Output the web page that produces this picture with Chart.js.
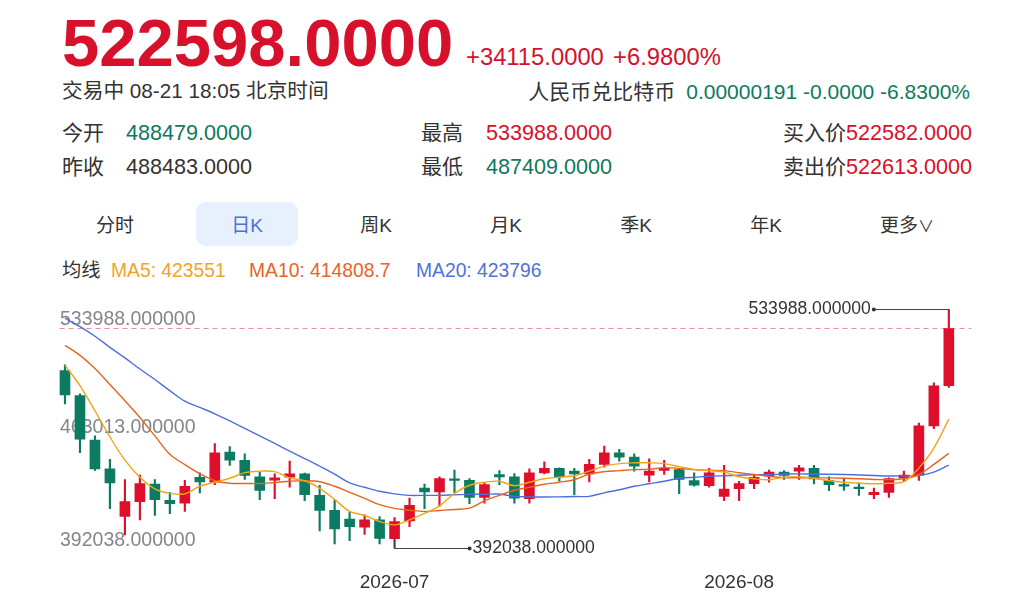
<!DOCTYPE html>
<html lang="zh-CN">
<head>
<meta charset="utf-8">
<title>人民币兑比特币 日K</title>
<script src="https://cdn.jsdelivr.net/npm/chart.js@4.4.1/dist/chart.umd.min.js"></script>
<style>
  html, body { margin: 0; padding: 0; background: #fff; }
  body {
    width: 1027px; height: 609px; position: relative; overflow: hidden;
    font-family: "Liberation Sans", Arial, "Noto Sans CJK SC", sans-serif; color: #333;
  }
  .t { position: absolute; white-space: nowrap; line-height: 1; }
  .red { color: #d7102b; }
  .green { color: #0d7a5f; }
  .price { left: 62px; top: 9px; font-size: 67px; font-weight: bold; }
  .chg { top: 45px; font-size: 23.8px; }
  .row { font-size: 21px; }
  .num { font-size: 21.6px; }
  .tab { top: 216px; font-size: 19px; width: 100px; text-align: center; }
  .tab-on { position: absolute; left: 196px; top: 202px; width: 102px; height: 44px; border-radius: 10px; background: #e7f0fd; }
  .ma { top: 261px; font-size: 19.3px; }
  #wrap { position: absolute; left: 0; top: 290px; width: 1027px; height: 319px; }
</style>
</head>
<body>

<div class="t red price">522598.0000</div>
<div class="t red chg" style="left:466px">+34115.0000</div>
<div class="t red chg" style="left:613px">+6.9800%</div>

<div class="t row" style="left:62px; top:81px; font-size:20.7px">交易中 08-21 18:05 北京时间</div>
<div class="t row" style="right:57px; top:81px">人民币兑比特币<span class="green" style="margin-left:11px">0.00000191 -0.0000 -6.8300%</span></div>

<div class="t row" style="left:62px; top:122px">今开</div>
<div class="t num green" style="left:126px; top:122px">488479.0000</div>
<div class="t row" style="left:421px; top:122px">最高</div>
<div class="t num red" style="left:486px; top:122px">533988.0000</div>
<div class="t row" style="right:55px; top:122px">买入价<span class="num red">522582.0000</span></div>

<div class="t row" style="left:62px; top:156px">昨收</div>
<div class="t num" style="left:126px; top:156px">488483.0000</div>
<div class="t row" style="left:421px; top:156px">最低</div>
<div class="t num green" style="left:486px; top:156px">487409.0000</div>
<div class="t row" style="right:55px; top:156px">卖出价<span class="num red">522613.0000</span></div>

<div class="tab-on"></div>
<div class="t tab" style="left:65px">分时</div>
<div class="t tab" style="left:197px; color:#4d6fd6">日K</div>
<div class="t tab" style="left:326px">周K</div>
<div class="t tab" style="left:456px">月K</div>
<div class="t tab" style="left:586px">季K</div>
<div class="t tab" style="left:716px">年K</div>
<div class="t tab" style="left:857px">更多<span style="font-size:16px">∨</span></div>

<div class="t ma" style="left:62px">均线</div>
<div class="t ma" style="left:111px; color:#f2a32b">MA5: 423551</div>
<div class="t ma" style="left:249px; color:#e8642a">MA10: 414808.7</div>
<div class="t ma" style="left:416px; color:#4f72dc">MA20: 423796</div>

<div id="wrap"><canvas id="kline"></canvas></div>

<script>
// trading days, 2026-06-01 .. 2026-08-21
const dates = [
  "2026-06-01", "2026-06-02", "2026-06-03", "2026-06-04", "2026-06-05",
  "2026-06-08", "2026-06-09", "2026-06-10", "2026-06-11", "2026-06-12",
  "2026-06-15", "2026-06-16", "2026-06-17", "2026-06-18", "2026-06-19",
  "2026-06-22", "2026-06-23", "2026-06-24", "2026-06-25", "2026-06-26",
  "2026-06-29", "2026-06-30",
  "2026-07-01", "2026-07-02", "2026-07-03", "2026-07-06", "2026-07-07",
  "2026-07-08", "2026-07-09", "2026-07-10", "2026-07-13", "2026-07-14",
  "2026-07-15", "2026-07-16", "2026-07-17", "2026-07-20", "2026-07-21",
  "2026-07-22", "2026-07-23", "2026-07-24", "2026-07-27", "2026-07-28",
  "2026-07-29", "2026-07-30", "2026-07-31",
  "2026-08-03", "2026-08-04", "2026-08-05", "2026-08-06", "2026-08-07",
  "2026-08-10", "2026-08-11", "2026-08-12", "2026-08-13", "2026-08-14",
  "2026-08-17", "2026-08-18", "2026-08-19", "2026-08-20", "2026-08-21"
];

const open = [
  497568, 482568, 456168, 438948, 410568, 419388, 429948, 420168, 418548, 433968,
  430968, 448968, 443988, 434148, 432168, 433968, 435948, 423168, 414168, 408948,
  404148, 408588, 397368, 407988, 427548, 425148, 432948, 432168, 421968, 435588,
  434148, 421188, 436548, 439188, 437568, 435948, 441588, 448548, 445968, 435168,
  437988, 438588, 431988, 428988, 422568, 427188, 430188, 434568, 436968, 437568,
  439188, 431988, 429588, 428148, 423588, 424968, 433548, 435168, 464568, 488479
];
const high = [
  500988, 483588, 458568, 444588, 432588, 435168, 432588, 424968, 432168, 436548,
  453948, 452148, 447948, 436968, 435948, 443568, 436368, 429168, 420168, 413148,
  411588, 410568, 409968, 421548, 429948, 434148, 438168, 433188, 430548, 437988,
  436188, 438948, 443148, 439548, 439188, 444588, 452568, 450588, 447948, 444948,
  443988, 438768, 436548, 439188, 440988, 431568, 435588, 438168, 437988, 440988,
  440988, 434148, 433188, 430548, 427548, 433548, 437568, 466188, 490188, 533988
];
const low = [
  477588, 448548, 437988, 415188, 399588, 408588, 411168, 412188, 413568, 424548,
  429588, 440988, 432588, 420588, 421188, 427968, 419988, 401988, 394188, 396168,
  399948, 394188, 392038, 404568, 415188, 416568, 424968, 418188, 418548, 429588,
  418548, 418548, 435948, 431568, 423588, 431148, 439968, 443568, 437568, 431148,
  435588, 424188, 428568, 427968, 419988, 419988, 427188, 430968, 432588, 432588,
  429948, 425988, 426168, 423168, 421188, 421968, 431568, 431988, 462948, 487409
];
const close = [
  482988, 456588, 438948, 430548, 419388, 430188, 420588, 418188, 428568, 431148,
  448548, 444168, 434988, 426168, 433548, 435948, 423588, 414168, 403188, 404568,
  408588, 397548, 407568, 417168, 425148, 433188, 431988, 421968, 429588, 434148,
  421548, 436548, 439188, 434148, 435948, 441588, 448548, 445968, 440568, 437568,
  439188, 432588, 429168, 436548, 426948, 430188, 433968, 436968, 434988, 439548,
  432948, 429588, 428568, 427188, 424968, 433188, 435168, 464568, 488483, 522598
];

// moving averages as drawn (values carried in from before the window)
const ma5 = [
  500568, 488568, 473568, 457968, 444168, 433968, 427068, 424368, 424068, 428568,
  430968, 433368, 436668, 437568, 437268, 433548, 431868, 427368, 420768, 413568,
  411168, 407568, 405588, 408588, 412368, 416868, 424368, 429168, 430968, 431568,
  428868, 430968, 433068, 433968, 434868, 437568, 440568, 442068, 442548, 442548,
  442068, 440268, 438588, 437868, 436968, 434268, 433068, 432468, 433968, 434268,
  433368, 431868, 430968, 430368, 430068, 430368, 431268, 439368, 451368, 468588
];
const ma10 = [
  512568, 506568, 498768, 489168, 479568, 469548, 458568, 447588, 441468, 436068,
  431868, 430368, 430248, 430188, 430848, 431568, 431868, 431268, 428568, 424968,
  421368, 417588, 415368, 414288, 413568, 414168, 414768, 415548, 419868, 423168,
  426168, 427968, 429768, 430968, 432468, 435768, 437268, 437868, 438468, 438768,
  439668, 439248, 438468, 438108, 437868, 436668, 435588, 434568, 433788, 433668,
  433548, 433548, 433368, 433068, 432648, 432588, 433068, 435588, 441588, 448188
];
const ma20 = [
  528768, 523668, 517968, 511368, 505068, 498468, 492168, 485568, 479268, 475548,
  471768, 467568, 463068, 458568, 454068, 449568, 445068, 440568, 435768, 430548,
  427968, 425568, 424068, 423168, 423168, 423168, 423468, 423768, 423768, 423948,
  422568, 422268, 422148, 422268, 422448, 422568, 424668, 426468, 428568, 430068,
  431568, 433368, 433968, 434568, 434868, 435168, 435348, 435588, 435768, 435948,
  435768, 435708, 435588, 435288, 434988, 434688, 434748, 434988, 436968, 441168
];

const UP = "#df0f2c";
const DOWN = "#0b7c62";

// one empty slot after the last candle, like the source chart
const labels = [...dates, ""];
const candleColor = close.map((c, i) => (c >= open[i] ? UP : DOWN));

const hi = Math.max(...high);
const lo = Math.min(...low);
const hiIdx = high.indexOf(hi);
const loIdx = low.indexOf(lo);
const last = close.length - 1;

// where the extremes sit inside the canvas (px)
const areaTop = 8, areaBottom = 276, hiPx = 19.3, loPx = 256;
const perPx = (hi - lo) / (loPx - hiPx);
const yMax = hi + (hiPx - areaTop) * perPx;
const yMin = lo - (areaBottom - loPx) * perPx;

const fmt = (v) => v.toFixed(6);

// price labels on the left + dashed line at the latest price
const priceGuide = {
  id: "priceGuide",
  beforeDatasetsDraw(chart) {
    const { ctx, chartArea, scales: { y } } = chart;
    ctx.save();
    ctx.font = "19.5px 'Liberation Sans', Arial, sans-serif";
    ctx.fillStyle = "#85868c";
    ctx.textAlign = "left";
    const x0 = chartArea.left + 2.5;
    ctx.textBaseline = "top";
    ctx.fillText(fmt(hi), x0, y.getPixelForValue(hi) + 1);
    ctx.textBaseline = "middle";
    ctx.fillText(fmt((hi + lo) / 2), x0, y.getPixelForValue((hi + lo) / 2) - 1);
    ctx.textBaseline = "bottom";
    ctx.fillText(fmt(lo), x0, y.getPixelForValue(lo) + 3);

    const py = Math.round(y.getPixelForValue(close[last])) + 0.5;
    ctx.strokeStyle = "#ee8f9a";
    ctx.lineWidth = 1;
    ctx.setLineDash([5, 4]);
    ctx.beginPath();
    ctx.moveTo(chartArea.left + 2, py);
    ctx.lineTo(chartArea.right, py);
    ctx.stroke();
    ctx.restore();
  }
};

// highest / lowest markers
const extremes = {
  id: "extremes",
  afterDatasetsDraw(chart) {
    const { ctx, scales: { x, y } } = chart;
    const reach = 75;
    ctx.save();
    ctx.strokeStyle = "#444";
    ctx.fillStyle = "#333";
    ctx.lineWidth = 1.2;
    ctx.font = "17.6px 'Liberation Sans', Arial, sans-serif";
    ctx.textBaseline = "middle";

    // max: label to the left
    let cx = x.getPixelForValue(hiIdx), cy = Math.round(y.getPixelForValue(hi)) + 0.5;
    ctx.beginPath();
    ctx.moveTo(cx, cy);
    ctx.lineTo(cx - reach, cy);
    ctx.stroke();
    ctx.beginPath();
    ctx.arc(cx - reach, cy, 2, 0, Math.PI * 2);
    ctx.fill();
    ctx.textAlign = "right";
    ctx.fillText(fmt(hi), cx - reach - 3, cy);

    // min: label to the right
    cx = x.getPixelForValue(loIdx);
    cy = Math.round(y.getPixelForValue(lo)) + 0.5;
    const bodyBottom = y.getPixelForValue(Math.min(open[loIdx], close[loIdx]));
    ctx.beginPath();
    ctx.moveTo(cx, bodyBottom);
    ctx.lineTo(cx, cy);
    ctx.lineTo(cx + reach, cy);
    ctx.stroke();
    ctx.beginPath();
    ctx.arc(cx + reach, cy, 2, 0, Math.PI * 2);
    ctx.fill();
    ctx.textAlign = "left";
    ctx.fillText(fmt(lo), cx + reach + 3, cy);
    ctx.restore();
  }
};

const maLine = (label, data, color) => ({
  type: "line",
  label,
  data,
  borderColor: color,
  borderWidth: 1.4,
  pointRadius: 0,
  tension: 0.35,
  fill: false,
  order: 0
});

new Chart(document.getElementById("kline"), {
  type: "bar",
  data: {
    labels,
    datasets: [
      maLine("MA5", ma5, "#f2a516"),
      maLine("MA10", ma10, "#e8641e"),
      maLine("MA20", ma20, "#4d6fdd"),
      {
        label: "body",
        data: open.map((o, i) => [o, close[i]]),
        backgroundColor: candleColor,
        barThickness: 10,
        minBarLength: 1.5,
        grouped: false,
        order: 1
      },
      {
        label: "wick",
        data: low.map((l, i) => [l, high[i]]),
        backgroundColor: candleColor,
        barThickness: 1.5,
        grouped: false,
        order: 2
      }
    ]
  },
  options: {
    responsive: true,
    maintainAspectRatio: false,
    animation: false,
    layout: { padding: { left: 57.5, right: 55.7, top: areaTop, bottom: 10.5 } },
    plugins: { legend: { display: false }, tooltip: { enabled: false } },
    scales: {
      x: {
        offset: true,
        grid: { display: false, drawTicks: false },
        border: { display: false },
        ticks: {
          autoSkip: false,
          maxRotation: 0,
          padding: 4,
          color: "#333",
          font: { size: 19, family: "'Liberation Sans', Arial, sans-serif" },
          callback(value, index) {
            const d = labels[index];
            if (!d || index === 0) return "";
            const prev = labels[index - 1];
            return d.slice(0, 7) !== prev.slice(0, 7) ? d.slice(0, 7) : "";
          }
        }
      },
      y: { display: false, min: yMin, max: yMax }
    }
  },
  plugins: [priceGuide, extremes]
});
</script>
</body>
</html>
